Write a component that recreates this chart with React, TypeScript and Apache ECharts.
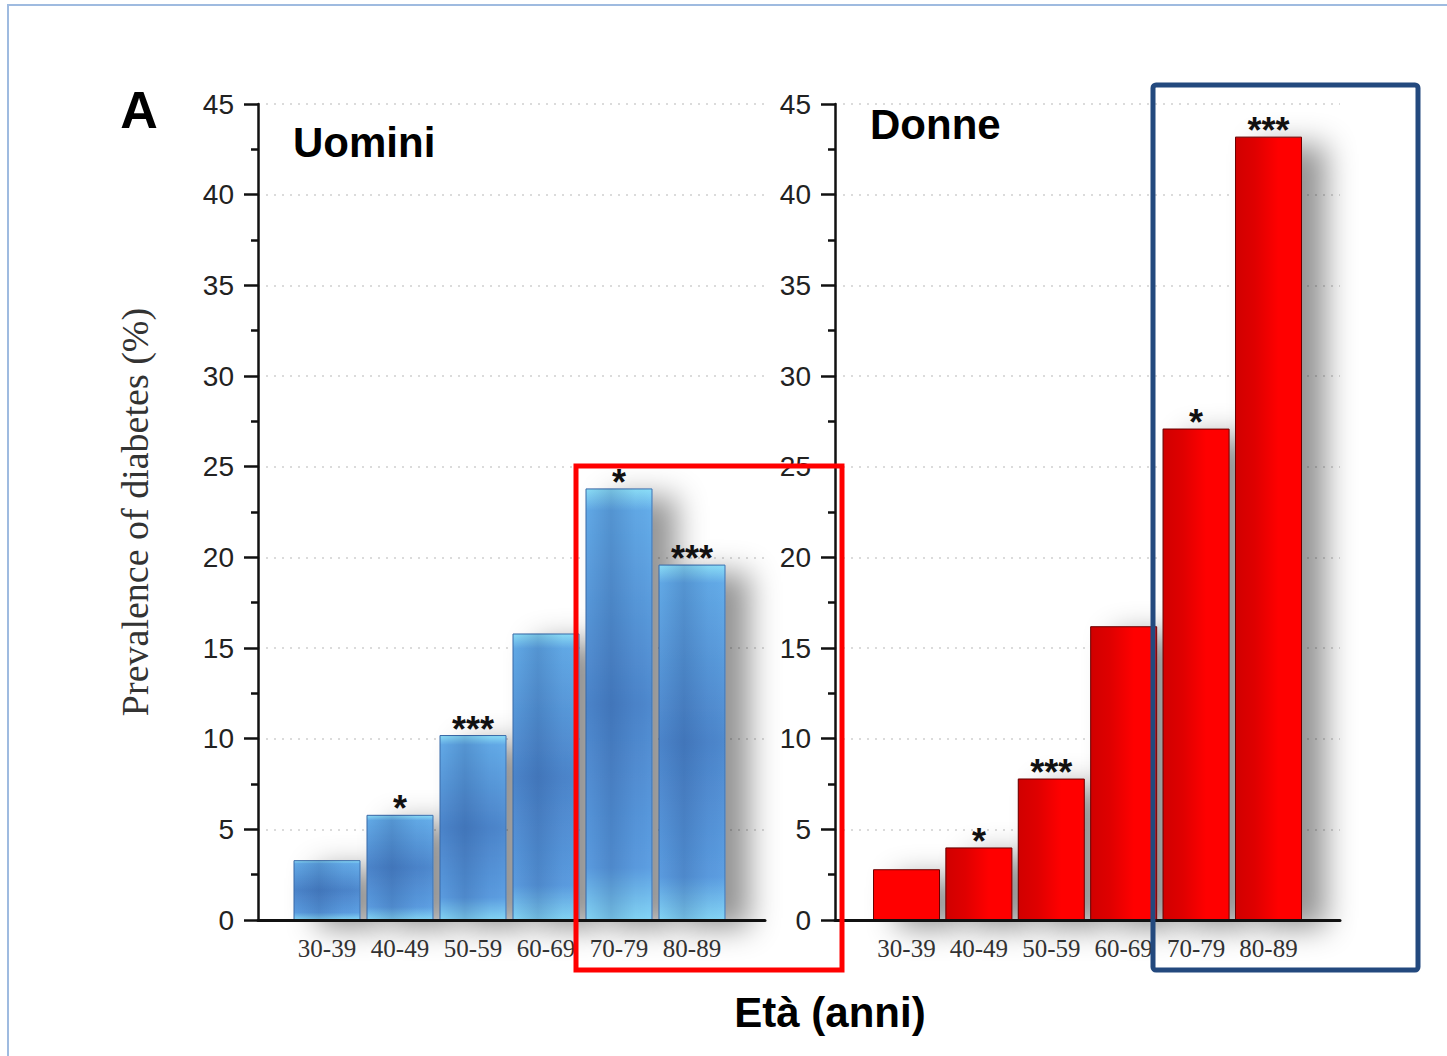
import React, { useEffect, useRef } from "react";
import * as echarts from "echarts";

const ageGroups = ["30-39", "40-49", "50-59", "60-69", "70-79", "80-89"];
const menPrevalence = [3.3, 5.8, 10.2, 15.8, 23.8, 19.6];
const womenPrevalence = [2.8, 4.0, 7.8, 16.2, 27.1, 43.2];
const menSignificance = ["", "*", "***", "", "*", "***"];
const womenSignificance = ["", "*", "***", "", "*", "***"];
const yMin = 0;
const yMax = 45;
const yStep = 5;

const panelTitles = ["Uomini", "Donne"];
const yAxisName = "Prevalence of diabetes (%)";
const xAxisName = "Età (anni)";
const panelLetter = "A";

const SERIF = "'Liberation Serif', 'Times New Roman', serif";
const SANS = "'Liberation Sans', Arial, sans-serif";

function frameYAxis(gridIndex: number, withName: boolean) {
  return {
    type: "value",
    gridIndex,
    min: yMin,
    max: yMax,
    interval: yStep,
    name: withName ? yAxisName : "",
    nameLocation: "middle",
    nameGap: 104,
    nameRotate: 90,
    nameTextStyle: { fontFamily: SERIF, fontSize: 38, color: "#333" },
    axisLine: { show: true, lineStyle: { color: "#111", width: 2.5 } },
    axisTick: { show: true, length: 14, lineStyle: { color: "#111", width: 2.5 } },
    minorTick: { show: true, splitNumber: 2, length: 7, lineStyle: { color: "#111", width: 2.5 } },
    axisLabel: { margin: 24, fontFamily: SANS, fontSize: 28, color: "#222" },
    splitLine: { show: true, lineStyle: { color: "#cfcfcf", width: 1.5, type: [2, 6] } },
    z: 1,
  };
}

function hiddenYAxis(gridIndex: number) {
  return { type: "value", gridIndex, min: yMin, max: yMax, interval: yStep, show: false };
}

function frameXAxis(gridIndex: number) {
  return {
    type: "value",
    gridIndex,
    min: 0,
    max: 1,
    axisLine: { show: true, onZero: false, lineStyle: { color: "#111", width: 3 } },
    axisTick: { show: false },
    axisLabel: { show: false },
    splitLine: { show: false },
    z: 10,
  };
}

function catXAxis(gridIndex: number) {
  return {
    type: "category",
    gridIndex,
    data: ageGroups,
    boundaryGap: true,
    axisLine: { show: false },
    axisTick: { show: false },
    axisLabel: {
      interval: 0,
      hideOverlap: false,
      margin: 16,
      fontFamily: SERIF,
      fontSize: 25,
      color: "#333",
    },
  };
}

const blueBase = {
  type: "linear", x: 0, y: 0, x2: 0, y2: 1,
  colorStops: [
    { offset: 0, color: "#8ee2fa" },
    { offset: 0.05, color: "#64ace9" },
    { offset: 0.5, color: "#4d86cc" },
    { offset: 0.88, color: "#5c9ee2" },
    { offset: 1, color: "#86d8f7" },
  ],
};
const blueOverlay = {
  type: "linear", x: 0, y: 0, x2: 1, y2: 0,
  colorStops: [
    { offset: 0, color: "rgba(20,50,110,0.02)" },
    { offset: 0.38, color: "rgba(20,50,110,0.2)" },
    { offset: 0.75, color: "rgba(20,50,110,0.04)" },
    { offset: 1, color: "rgba(120,200,255,0.08)" },
  ],
};
const redOverlay = {
  type: "linear", x: 0, y: 0, x2: 1, y2: 0,
  colorStops: [
    { offset: 0, color: "rgba(110,0,0,0.32)" },
    { offset: 0.3, color: "rgba(110,0,0,0.22)" },
    { offset: 0.65, color: "rgba(110,0,0,0)" },
    { offset: 1, color: "rgba(110,0,0,0)" },
  ],
};

function barSeries(
  xi: number,
  values: number[],
  sig: string[],
  color: any,
  overlay: any,
  border: string
) {
  return [
    {
      type: "bar",
      xAxisIndex: xi,
      yAxisIndex: xi,
      data: values,
      barWidth: 67,
      itemStyle: {
        color,
        borderColor: border,
        borderWidth: 1,
        shadowColor: "rgba(0,0,0,0.42)",
        shadowBlur: 30,
        shadowOffsetX: 24,
        shadowOffsetY: 8,
      },
      label: {
        show: true,
        position: "top",
        distance: 0,
        offset: [0, 12],
        formatter: (p: any) => sig[p.dataIndex],
        fontFamily: SANS,
        fontWeight: "bold",
        fontSize: 36,
        color: "#111",
      },
      z: 3,
    },
    {
      type: "bar",
      xAxisIndex: xi,
      yAxisIndex: xi,
      data: values.map((v, i) =>
        i === 0 && overlay === redOverlay ? { value: v, itemStyle: { opacity: 0 } } : v
      ),
      barWidth: 67,
      barGap: "-100%",
      silent: true,
      itemStyle: { color: overlay },
      z: 4,
    },
  ];
}

export default function App() {
  const ref = useRef<HTMLDivElement>(null);
  useEffect(() => {
    if (!ref.current) return;
    const chart = echarts.init(ref.current, undefined, { renderer: "svg" });
    chart.setOption({
      animation: false,
      backgroundColor: "#ffffff",
      grid: [
        { left: 258, top: 104, width: 507, height: 816 },
        { left: 290.5, top: 104, width: 438, height: 816 },
        { left: 835, top: 104, width: 505, height: 816 },
        { left: 870.3, top: 104, width: 434.4, height: 816 },
      ],
      xAxis: [frameXAxis(0), catXAxis(1), frameXAxis(2), catXAxis(3)],
      yAxis: [frameYAxis(0, true), hiddenYAxis(1), frameYAxis(2, false), hiddenYAxis(3)],
      series: [
        ...barSeries(1, menPrevalence, menSignificance, blueBase, blueOverlay, "#3a6aa8"),
        ...barSeries(3, womenPrevalence, womenSignificance, "#ff0000", redOverlay, "#6a0000"),
      ],
      graphic: [
        {
          type: "rect",
          shape: { x: 8, y: 5, width: 1460, height: 1080 },
          style: { fill: "none", stroke: "#9fbbe0", lineWidth: 2 },
          silent: true,
        },
        {
          type: "text",
          x: 139,
          y: 110,
          style: { text: panelLetter, font: "bold 52px " + SANS, fill: "#000", align: "center", verticalAlign: "middle" },
        },
        {
          type: "text",
          x: 293,
          y: 142,
          style: { text: panelTitles[0], font: "bold 42px " + SANS, fill: "#000", align: "left", verticalAlign: "middle" },
        },
        {
          type: "text",
          x: 870,
          y: 124,
          style: { text: panelTitles[1], font: "bold 42px " + SANS, fill: "#000", align: "left", verticalAlign: "middle" },
        },
        {
          type: "text",
          x: 830,
          y: 1012,
          style: { text: xAxisName, font: "bold 42px " + SANS, fill: "#000", align: "center", verticalAlign: "middle" },
        },
        {
          type: "rect",
          z: 100,
          shape: { x: 576, y: 466, width: 266, height: 504 },
          style: { fill: "none", stroke: "#ff0000", lineWidth: 5 },
          silent: true,
        },
        {
          type: "rect",
          z: 100,
          shape: { x: 1153, y: 85, width: 265, height: 885, r: 3 },
          style: { fill: "none", stroke: "#23497e", lineWidth: 5 },
          silent: true,
        },
      ],
    });
    return () => chart.dispose();
  }, []);
  return (
    <div
      ref={ref}
      style={{ position: "fixed", left: 0, top: 0, width: 1447, height: 1056, background: "#fff" }}
    />
  );
}
